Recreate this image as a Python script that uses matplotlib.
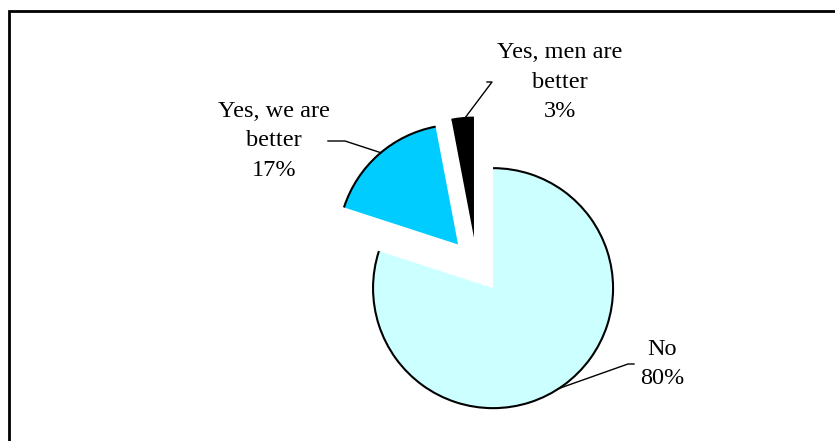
import numpy as np
import matplotlib
matplotlib.use("Agg")
import matplotlib.pyplot as plt
from matplotlib.patches import Arc, Rectangle

labels = ["No", "Yes, we are\nbetter", "Yes, men are\nbetter"]
values = [80, 17, 3]
colors = ["#CCFFFF", "#00CCFF", "#000000"]

W, H = 835, 441
fig = plt.figure(figsize=(W / 100, H / 100), dpi=100)
ax = fig.add_axes([0, 0, 1, 1])

R = 120
cx, cy = 476.6, 175.5
wedges, _ = ax.pie(values, colors=colors, startangle=90, counterclock=False,
                   explode=[28] * 3, radius=R, center=(cx, cy), frame=True,
                   wedgeprops=dict(linewidth=0))
ax.set_xlim(0, W)
ax.set_ylim(0, H)
ax.set_aspect("equal")
ax.axis("off")

for w in wedges:
    ax.add_patch(Arc(w.center, 2 * w.r, 2 * w.r, theta1=w.theta1, theta2=w.theta2,
                     color="black", lw=1.5, zorder=3))

font = dict(family="Liberation Serif", fontsize=17.5, linespacing=1.55, ha="center", va="center")

# label placements (text pos, line start x, elbow, anchor angle on wedge arc)
layout = [
    ((662, 441 - 364), 634, (628, 441 - 364), -56.7),
    ((274, 441 - 141), 328, (345, 441 - 141), 130.1),
    ((560, 441 - 82), 487, (492, 441 - 82), 94.3),
]
for w, lab, v, (tp, sx, elbow, ang) in zip(wedges, labels, values, layout):
    ax.text(tp[0], tp[1], f"{lab}\n{v}%", **font)
    a = np.deg2rad(ang)
    px = w.center[0] + w.r * np.cos(a)
    py = w.center[1] + w.r * np.sin(a)
    ax.plot([sx, elbow[0], px], [elbow[1], elbow[1], py], color="black", lw=1, zorder=4)

ax.add_patch(Rectangle((9, -10), W + 10, H + 10 - 11, fill=False, edgecolor="black",
                       lw=2, zorder=5, clip_on=False))

fig.savefig("out.png", dpi=100)
